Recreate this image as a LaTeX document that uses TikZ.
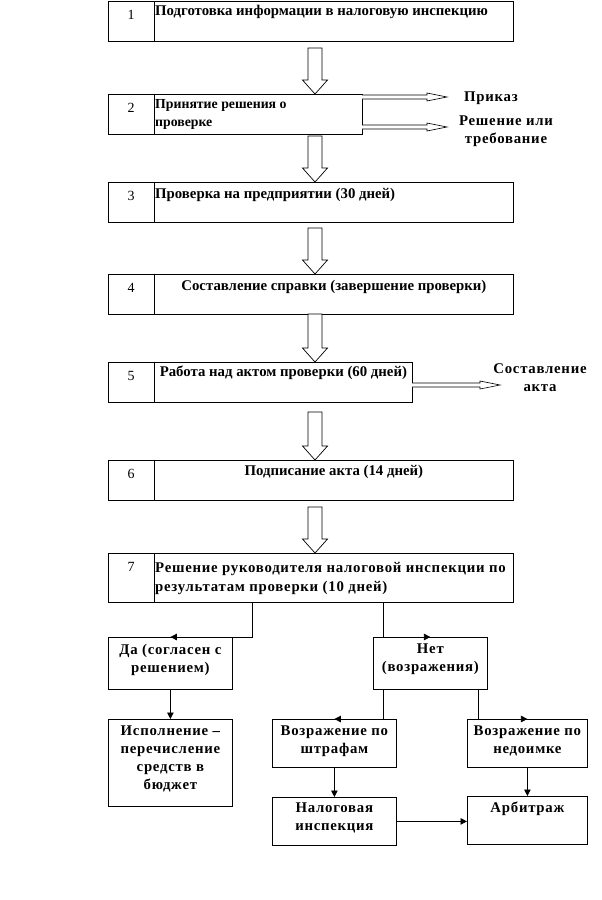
\documentclass[tikz,border=0pt]{standalone}
\usepackage{fontspec}
\setmainfont{Liberation Serif}
\usetikzlibrary{arrows.meta,calc}
\newcommand\blockarr[3]{% x, ytop, ytip
  \draw[line width=0.7pt,fill=white] (#1-7,#2) -- (#1+7,#2) -- (#1+7,#3-14) -- (#1+12.5,#3-14)
    -- (#1,#3) -- (#1-12.5,#3-14) -- (#1-7,#3-14) -- cycle;}
\newcommand\sidearr[3]{% xstart, y, xtip
  \draw[line width=0.6pt,fill=white] (#1,#2-2) -- (#3-20,#2-2) -- (#3-20,#2-4) -- (#3,#2)
    -- (#3-20,#2+4) -- (#3-20,#2+2) -- (#1,#2+2);}
\begin{document}
\begin{tikzpicture}[x=1pt,y=-1pt,
  box/.style={draw,line width=0.8pt,inner sep=0pt,anchor=north west},
  num/.style={font=\fontsize{14}{16}\selectfont,inner sep=0pt},
  txt/.style={font=\fontsize{14.8}{18}\selectfont\bfseries,inner sep=0pt,align=left},
  ctxt/.style={font=\fontsize{14.8}{18}\selectfont\bfseries,inner sep=0pt,align=center},
  sp/.style={font=\fontsize{14.8}{18}\selectfont\bfseries\addfontfeature{LetterSpace=5}},
  conn/.style={line width=0.8pt,-{Triangle[length=6.5pt,width=6.5pt]}}]
\useasboundingbox (0,0) rectangle (602,900);
% main boxes
\node[box,minimum width=405pt,minimum height=40pt] (b1) at (108,1) {};
\node[box,minimum width=254pt,minimum height=40pt] (b2) at (108,94) {};
\node[box,minimum width=405pt,minimum height=40pt] (b3) at (108,182) {};
\node[box,minimum width=405pt,minimum height=40pt] (b4) at (108,274) {};
\node[box,minimum width=304pt,minimum height=40pt] (b5) at (108,362) {};
\node[box,minimum width=405pt,minimum height=40pt] (b6) at (108,460) {};
\node[box,minimum width=405pt,minimum height=49pt] (b7) at (108,553) {};
\foreach \b/\n in {b1/1,b2/2,b3/3,b4/4,b5/5,b6/6,b7/7}{
  \draw[line width=0.8pt] ([xshift=46pt]\b.north west) -- ([xshift=46pt]\b.south west);
  \node[num] (n\n) at ([xshift=23pt,yshift=-14pt]\b.north west) {\n};
}
\node[txt,anchor=west] (t1) at ([xshift=47pt,yshift=-11pt]b1.north west) {Подготовка информации в налоговую инспекцию};
\node[txt,anchor=north west,font=\fontsize{13.8}{18}\selectfont\bfseries] (t2) at ([xshift=47pt,yshift=-5pt]b2.north west) {Принятие решения о\\проверке};
\node[txt,anchor=west] (t3) at ([xshift=47pt,yshift=-13pt]b3.north west) {Проверка на предприятии (30 дней)};
\node[ctxt] (t4) at ($([yshift=-13pt]b4.north west)!0.5!([yshift=-13pt]b4.north east)+(23,0)$) {Составление справки (завершение проверки)};
\node[ctxt] (t5) at ($([yshift=-11pt]b5.north west)!0.5!([yshift=-11pt]b5.north east)+(23,0)$) {Работа над актом проверки (60 дней)};
\node[ctxt] (t6) at ($([yshift=-12pt]b6.north west)!0.5!([yshift=-12pt]b6.north east)+(23,0)$) {Подписание акта (14 дней)};
\node[txt,sp,anchor=north west,font=\fontsize{14.8}{19}\selectfont\bfseries\addfontfeature{LetterSpace=5}] (t7) at ([xshift=47pt,yshift=-9pt]b7.north west) {Решение руководителя налоговой инспекции по\\результатам проверки (10 дней)};
% block arrows
\blockarr{315}{48}{94}
\blockarr{315}{136}{182}
\blockarr{315}{228}{274}
\blockarr{315}{314}{362}
\blockarr{315}{412}{460}
\blockarr{315}{507}{553}
% side arrows
\sidearr{362}{97}{447}
\sidearr{362}{127}{447}
\sidearr{412}{385}{500}
\node[ctxt,sp] (l1) at (491,98) {Приказ};
\node[ctxt,sp] (l2) at (506,131) {Решение или\\требование};
\node[ctxt,sp] (l3) at (540,378) {Составление\\акта};
% lower boxes
\node[box,minimum width=124pt,minimum height=52pt] (da) at (108,637) {};
\node[box,minimum width=114pt,minimum height=52pt] (net) at (373,637) {};
\node[box,minimum width=124pt,minimum height=87pt] (isp) at (108,719) {};
\node[box,minimum width=124pt,minimum height=48pt] (sht) at (272,719) {};
\node[box,minimum width=120pt,minimum height=48pt] (ned) at (467,719) {};
\node[box,minimum width=124pt,minimum height=48pt] (nal) at (272,797) {};
\node[box,minimum width=120pt,minimum height=48pt] (arb) at (467,796) {};
\node[ctxt,sp,anchor=north] (tda) at ([yshift=-7pt]da.north) {Да (согласен с\\решением)};
\node[ctxt,sp,anchor=north] (tnet) at ([yshift=-7pt]net.north) {Нет\\(возражения)};
\node[ctxt,sp,anchor=north] (tisp) at ([yshift=-7pt]isp.north) {Исполнение –\\перечисление\\средств в\\бюджет};
\node[ctxt,sp,anchor=north] (tsht) at ([yshift=-7pt]sht.north) {Возражение по\\штрафам};
\node[ctxt,sp,anchor=north] (tned) at ([yshift=-7pt]ned.north) {Возражение по\\недоимке};
\node[ctxt,sp,anchor=north] (tnal) at ([yshift=-6pt]nal.north) {Налоговая\\инспекция};
\node[ctxt,sp,anchor=north] (tarb) at ([yshift=-6pt]arb.north) {Арбитраж};
% connectors
\coordinate (xa) at (252,0);
\coordinate (xb) at (383,0);
\coordinate (xc) at (478,0);
\draw[conn] (b7.south -| xa) |- (da.north);
\draw[conn] (b7.south -| xb) |- (net.north);
\draw[conn] (da.south) -- (da.south |- isp.north);
\draw[conn] (net.south -| xb) |- (sht.north);
\draw[conn] (net.south -| xc) |- (ned.north);
\draw[conn] (sht.south) -- (sht.south |- nal.north);
\draw[conn] (ned.south) -- (ned.south |- arb.north);
\draw[conn] (nal.east) -- (nal.east -| arb.west);
\end{tikzpicture}
\end{document}
